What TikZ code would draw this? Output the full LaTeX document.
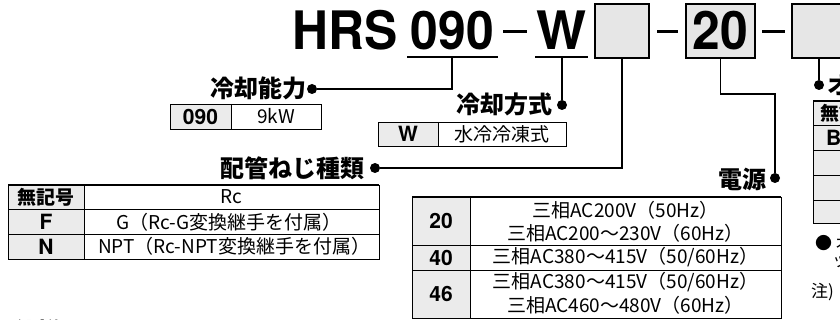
\documentclass[tikz,border=0pt]{standalone}
\usepackage{fontspec}
\setmainfont{Noto Sans CJK JP}
\newfontfamily\hvfont{TeX Gyre Heros}
\usepackage{tikz}
\usepackage{xcolor}
\usetikzlibrary{positioning}
\definecolor{cellgray}{HTML}{EBEBEB}
\definecolor{boxgray}{HTML}{E6E6E6}
\tikzset{%
  lead/.style={line width=1.6pt},
  dot/.style={circle,fill=black,inner sep=0pt,minimum size=10pt},
  codebox/.style={draw,line width=1.6pt,fill=boxgray,minimum height=54pt,inner sep=0pt},
  bigtxt/.style={inner sep=0pt,font=\hvfont\bfseries\fontsize{53}{53}\selectfont},
  lbl/.style={inner sep=0pt,anchor=west,font=\bfseries\fontsize{24}{24}\selectfont},
  celltxt/.style={inner sep=0pt,font=\fontsize{19}{19}\selectfont},
  codetxt/.style={inner sep=0pt,font=\hvfont\bfseries\fontsize{21}{21}\selectfont},
  notetxt/.style={inner sep=0pt,anchor=west,font=\fontsize{17}{17}\selectfont},
  tabline/.style={line width=0.9pt},
  tabtop/.style={line width=2.5pt}
}

\begin{document}
\begin{tikzpicture}[x=1pt,y=-1pt]
    \useasboundingbox (0,0) rectangle (840,320);
    % model code
    \node[bigtxt,anchor=base west] (hrs) at (292,50) {\scalebox{0.94}[1]{HRS}};
    \node[bigtxt,anchor=base] (cap) at (452.5,50) {\scalebox{0.94}[1]{090}};
    \node[bigtxt,anchor=base] (cool) at (561.5,50) {W};
    \draw[lead] (407,57) -- (498,57);
    \draw[lead] (535,57) -- (588,57);
    \fill (503,30.5) rectangle (527,33.5);
    \fill (657,30.5) rectangle (678,33.5);
    \fill (762,30.5) rectangle (785,33.5);
    \node[codebox,minimum width=54pt] (boxA) at (622,31) {};
    \node[codebox,bigtxt,minimum width=69pt,minimum height=54pt] (boxB) at (720.5,31) {\scalebox{0.94}[1]{20}};
    \node[codebox,minimum width=54pt] (boxC) at (819,31) {};
    \coordinate (uCap) at (452,57);
    \coordinate (uCool) at (562,57);
    \node[dot] (dCap) at (312,89) {};
    \node[dot] (dCool) at (562,105) {};
    \node[dot] (dPipe) at (375,168) {};
    \node[dot] (dPow) at (775,178) {};
    \node[dot] (dOpt) at (819,85) {};
    \draw[lead] (uCap) |- (dCap);
    \draw[lead] (uCool) -- (dCool);
    \draw[lead] (boxA.south) |- (dPipe);
    \draw[lead] (boxB.south) -- ++(0,35) -| (dPow);
    \draw[lead] (boxC.south) -- (dOpt);
    \node[lbl] (tCap) at (210,88) {冷却能力};
    \node[lbl] (tCool) at (456,104) {冷却方式};
    \node[lbl] (tPipe) at (220,168) {配管ねじ種類};
    \node[lbl] (tPow) at (718,179) {電源};
    \node[lbl] (tOpt) at (827,85) {オプション};
    % capacity table
    \fill[cellgray] (170,104) rectangle (231,129);
    \draw[tabline] (170,104) rectangle (321,129) (231,104) -- (231,129);
    \node[codetxt] (c090) at (200.5,116.5) {090};
    \node[celltxt] (c9kw) at (276,116.5) {9kW};
    % cooling table
    \fill[cellgray] (378,122) rectangle (438,146);
    \draw[tabline] (378,122) rectangle (566,146) (438,122) -- (438,146);
    \node[codetxt] (cW) at (408,134) {W};
    \node[celltxt] (cWater) at (502,134) {水冷冷凍式};
    % piping table
    \fill[cellgray] (8,185) rectangle (84,259);
    \draw[tabline] (8,185) rectangle (379,259) (84,185) -- (84,259)
        (8,209.5) -- (379,209.5) (8,234.5) -- (379,234.5);
    \draw[tabtop] (8,185) -- (379,185);
    \node[celltxt,font=\bfseries\fontsize{19}{19}\selectfont] (pNone) at (46,197) {無記号};
    \node[celltxt] (pRc) at (231.5,197) {Rc};
    \node[codetxt] (pF) at (46,222) {F};
    \node[celltxt] (pG) at (229,222) {G（Rc-G変換継手を付属）};
    \node[codetxt] (pN) at (46,246.5) {N};
    \node[celltxt] (pNpt) at (234,246.5) {NPT（Rc-NPT変換継手を付属）};
    % power table
    \fill[cellgray] (412,197) rectangle (470,318);
    \draw[tabline] (412,197) rectangle (781,318) (470,197) -- (470,318)
        (412,245) -- (781,245) (412,270) -- (781,270);
    \draw[tabtop] (412,197) -- (781,197);
    \node[codetxt] (v20) at (441,221) {20};
    \node[celltxt] (v20a) at (625.5,210) {三相AC200V（50Hz）};
    \node[celltxt] (v20b) at (625.5,233) {三相AC200～230V（60Hz）};
    \node[codetxt] (v40) at (441,257.5) {40};
    \node[celltxt] (v40a) at (625.5,257.5) {三相AC380～415V（50/60Hz）};
    \node[codetxt] (v46) at (441,294) {46};
    \node[celltxt] (v46a) at (625.5,282) {三相AC380～415V（50/60Hz）};
    \node[celltxt] (v46b) at (625.5,305) {三相AC460～480V（60Hz）};
    % option table
    \fill[cellgray] (813,101) rectangle (880,223);
    \draw[tabline] (813,101) rectangle (900,223) (880,101) -- (880,223)
        (813,125) -- (900,125) (813,150) -- (900,150)
        (813,175) -- (900,175) (813,200) -- (900,200);
    \draw[tabtop] (813,101) -- (900,101);
    \node[celltxt,anchor=west,font=\bfseries\fontsize{19}{19}\selectfont] (oNone) at (820,113) {無記号};
    \node[codetxt,anchor=west] (oB) at (826,137.5) {B};
    \node[notetxt] (nA) at (815,243) {●\,オ};
    \node[notetxt] (nB) at (832,262) {ッ};
    \node[notetxt] (nC) at (811,292) {注)};
    % next heading
    \node[lbl,anchor=north west] (spec) at (13,319.5) {仕様};
\end{tikzpicture}
\end{document}
